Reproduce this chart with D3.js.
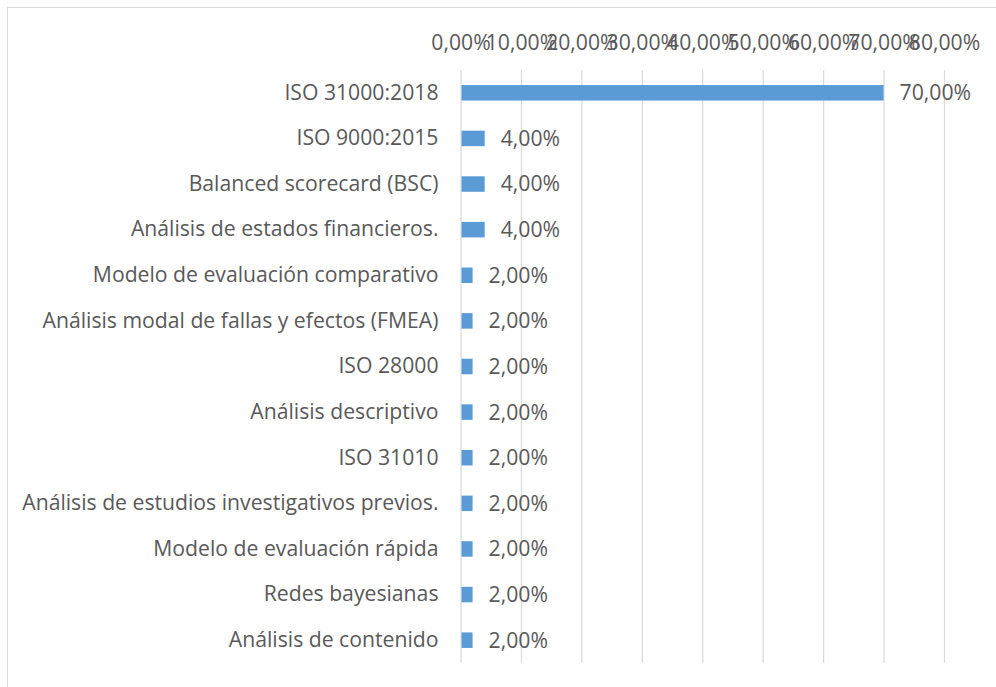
<!DOCTYPE html>
<html>
<head>
<meta charset="utf-8">
<script src="https://cdn.jsdelivr.net/npm/d3@7"></script>
<style>
  body { margin: 0; background: #fff; }
  text { font-family: "Open Sans", sans-serif; fill: #595959; }
</style>
</head>
<body>
<div id="chart"></div>
<script>
// Categories (top to bottom) and their shares in percent
const categories = [
    'ISO 31000:2018',
    'ISO 9000:2015',
    'Balanced scorecard (BSC)',
    'Análisis de estados financieros.',
    'Modelo de evaluación comparativo',
    'Análisis modal de fallas y efectos (FMEA)',
    'ISO 28000',
    'Análisis descriptivo',
    'ISO 31010',
    'Análisis de estudios investigativos previos.',
    'Modelo de evaluación rápida',
    'Redes bayesianas',
    'Análisis de contenido'
];
const values = [70, 4, 4, 4, 2, 2, 2, 2, 2, 2, 2, 2, 2];
const tickValues = [0, 10, 20, 30, 40, 50, 60, 70, 80];

const width = 996, height = 687;
const margin = { top: 70, right: 52, bottom: 24, left: 460.5 };
const boundedWidth = 944 - margin.left;
const boundedHeight = 663 - margin.top;
const fontSize = 21.2;

const fmt = v => v.toFixed(2).replace('.', ',') + '%';

const svg = d3.select('#chart').append('svg')
    .attr('width', width)
    .attr('height', height);

// chart frame (runs off the right/bottom of the picture)
svg.append('rect')
    .attr('x', 7.5).attr('y', 7.5)
    .attr('width', 1010).attr('height', 700)
    .attr('fill', 'none')
    .attr('stroke', '#d9d9d9');

const bounds = svg.append('g')
    .attr('transform', `translate(${margin.left},${margin.top})`);

const xScale = d3.scaleLinear().domain([0, 80]).range([0, boundedWidth]);
const yScale = d3.scaleBand().domain(categories).range([0, boundedHeight]).paddingInner(0.66).paddingOuter(0.33);

// grid + top axis
const xAxis = d3.axisTop(xScale)
    .tickValues(tickValues)
    .tickFormat(fmt)
    .tickSize(-boundedHeight)
    .tickPadding(20);

const xAxisG = bounds.append('g').call(xAxis);
xAxisG.select('.domain').remove();
xAxisG.selectAll('.tick line').attr('stroke', '#d9d9d9').attr('stroke-width', 1.2);
xAxisG.selectAll('.tick text')
    .attr('font-size', fontSize)
    .attr('fill', '#595959');

// category labels
const yAxis = d3.axisLeft(yScale).tickSize(0).tickPadding(22);
const yAxisG = bounds.append('g').call(yAxis);
yAxisG.select('.domain').remove();
yAxisG.selectAll('.tick text')
    .attr('font-size', fontSize)
    .attr('fill', '#595959');

// bars
bounds.selectAll('.bar')
    .data(values)
    .join('rect')
    .attr('class', 'bar')
    .attr('x', xScale(0) + 1)
    .attr('y', (d, i) => yScale(categories[i]))
    .attr('width', d => xScale(d) - xScale(0) - 1)
    .attr('height', yScale.bandwidth())
    .attr('fill', '#5b9bd5');

// value labels
bounds.selectAll('.value')
    .data(values)
    .join('text')
    .attr('class', 'value')
    .attr('x', d => xScale(d) + 16)
    .attr('y', (d, i) => yScale(categories[i]) + yScale.bandwidth() / 2)
    .attr('dy', '0.35em')
    .attr('font-size', fontSize)
    .text(fmt);
</script>
</body>
</html>
